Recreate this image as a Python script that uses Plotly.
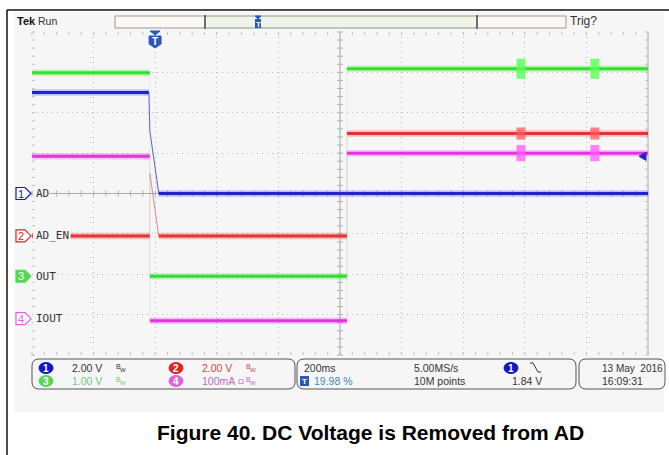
import plotly.graph_objects as go

# ---------------------------------------------------------------- data
# horizontal: 200 ms/div over 10 div, trigger placed at 19.98 % of record
time_per_div = 200.0
trig_pos_pct = 19.98
t_start = -trig_pos_pct / 100.0 * 10 * time_per_div
t_end = t_start + 10 * time_per_div

ch_names = ["AD", "AD_EN", "OUT", "IOUT"]
ch_scale = [2.0, 2.0, 1.0, 100.0]          # units per division
ch_units = ["V", "V", "V", "mA"]
ch_pos = [0.0, -1.05, -2.05, -3.1]          # ground level, divisions

# waveforms: time (ms) / value (channel units)
ad_t = [t_start, -20, -17, 12, t_end]
ad_v = [5.0, 5.0, 3.1, 0.0, 0.0]

en_t = [t_start, -17, -17, 12, 623, 623, t_end]
en_v = [0.0, 0.0, 3.1, 0.0, 0.0, 5.07, 5.07]

out_t = [t_start, -17, -17, 623, 623, t_end]
out_v = [5.04, 5.04, 0.0, 0.0, 5.14, 5.14]

iout_t = [t_start, -17, -17, 623, 623, t_end]
iout_v = [402, 402, -5, -5, 410, 410]

# short bursts seen on the restored rails
glitch_t = [1188, 1428]
glitch_amp = [0.0, 0.3, 0.25, 20.0]        # half-height per channel, units

trig_level = 1.84                           # V on channel 1
sample_rate = "5.00MS/s"
record_len = "10M points"
stamp_date = "13 May  2016"
stamp_time = "16:09:31"

# ---------------------------------------------------------------- style
W, H = 669, 455
GX0, GX1 = 32, 648
GY0, GY1 = 32, 355
NX, NY = 10, 8
DIVX = (GX1 - GX0) / NX
DIVY = (GY1 - GY0) / NY
CX = (GX0 + GX1) / 2
CY = (GY0 + GY1) / 2
PANEL = "#f6f6f6"
GRID = "#b9b9b9"
FONT = "Liberation Sans"
MONO = "DejaVu Sans Mono"
SZ = 10.5

core = ["#2323c8", "#e23434", "#33dd33", "#e035e0"]
halo = ["rgba(90,90,255,0.35)", "rgba(255,90,90,0.35)",
        "rgba(90,255,90,0.4)", "rgba(255,90,255,0.35)"]
burst = ["rgba(90,90,255,0.75)", "rgba(255,90,90,0.75)",
         "rgba(90,255,90,0.8)", "rgba(255,90,255,0.75)"]
slope = ["rgba(40,40,200,0.75)", "rgba(200,70,70,0.6)",
         "rgba(60,200,60,0.5)", "rgba(200,60,200,0.5)"]
jump = ["rgba(40,40,200,0.10)", "rgba(200,60,60,0.10)",
        "rgba(60,200,60,0.10)", "rgba(200,60,200,0.10)"]
badge_fill = ["#1414c8", "#e02424", "#55d855", "#e060e0"]


def px(x):
    return x / W


def py(y):
    return 1 - y / H


def to_div(ch, vals):
    return [None if v is None else ch_pos[ch] + v / ch_scale[ch] for v in vals]


def segments(ts, vs, kind):
    """Split a waveform into flat runs, sloped edges or vertical jumps."""
    xs, ys = [], []
    for i in range(len(ts) - 1):
        flat = vs[i] == vs[i + 1] and ts[i] != ts[i + 1]
        vert = ts[i] == ts[i + 1] and vs[i] != vs[i + 1]
        sl = not flat and not vert
        if (kind == "flat" and flat) or (kind == "vert" and vert) or (kind == "slope" and sl):
            xs += [ts[i], ts[i + 1], None]
            ys += [vs[i], vs[i + 1], None]
    return xs, ys


def value_at(ts, vs, t):
    v = vs[0]
    for ti, vi in zip(ts, vs):
        if ti <= t:
            v = vi
    return v


fig = go.Figure()
waves = [(ad_t, ad_v), (en_t, en_v), (out_t, out_v), (iout_t, iout_v)]


def add_line(xs, ys, color, width):
    if xs:
        fig.add_trace(go.Scatter(x=xs, y=ys, mode="lines",
                                 line=dict(color=color, width=width),
                                 hoverinfo="skip", showlegend=False))


for ch, (ts, vs) in enumerate(waves):
    vx, vy = segments(ts, vs, "vert")
    add_line(vx, to_div(ch, vy), jump[ch], 1)
    sx, sy = segments(ts, vs, "slope")
    add_line(sx, to_div(ch, sy), slope[ch], 1)
    fx, fy = segments(ts, vs, "flat")
    add_line(fx, to_div(ch, fy), halo[ch], 6.5)
    add_line(fx, to_div(ch, fy), core[ch], 3)
    if glitch_amp[ch] > 0:
        gx, gy = [], []
        for t in glitch_t:
            v = value_at(ts, vs, t)
            gx += [t, t, None]
            gy += [v - glitch_amp[ch], v + glitch_amp[ch], None]
        add_line(gx, to_div(ch, gy), burst[ch], 9)

shapes = []
ann = []


def line(x0, y0, x1, y1, color, width=1, layer="below"):
    shapes.append(dict(type="line", xref="paper", yref="paper",
                       x0=px(x0), y0=py(y0), x1=px(x1), y1=py(y1),
                       line=dict(color=color, width=width), layer=layer))


def rect(x0, y0, x1, y1, fill, color=None, width=1, layer="below"):
    shapes.append(dict(type="rect", xref="paper", yref="paper",
                       x0=px(x0), y0=py(y1), x1=px(x1), y1=py(y0),
                       fillcolor=fill, layer=layer,
                       line=dict(color=color or fill, width=width if color else 0)))


def path(pts, fill, color, width=1, layer="above", close=True):
    s = "M " + " L ".join(f"{px(x):.5f},{py(y):.5f}" for x, y in pts)
    if close:
        s += " Z"
    shapes.append(dict(type="path", xref="paper", yref="paper", path=s,
                       fillcolor=fill, line=dict(color=color, width=width), layer=layer))


def rrect(x0, y0, x1, y1, r, color="#555", fill="rgba(0,0,0,0)"):
    s = (f"M {px(x0 + r)},{py(y0)} L {px(x1 - r)},{py(y0)} "
         f"Q {px(x1)},{py(y0)} {px(x1)},{py(y0 + r)} L {px(x1)},{py(y1 - r)} "
         f"Q {px(x1)},{py(y1)} {px(x1 - r)},{py(y1)} L {px(x0 + r)},{py(y1)} "
         f"Q {px(x0)},{py(y1)} {px(x0)},{py(y1 - r)} L {px(x0)},{py(y0 + r)} "
         f"Q {px(x0)},{py(y0)} {px(x0 + r)},{py(y0)} Z")
    shapes.append(dict(type="path", xref="paper", yref="paper", path=s,
                       fillcolor=fill, line=dict(color=color, width=1), layer="above"))


def text(x, y, s, size=SZ, color="#333", anchor="left", family=FONT, bold=False):
    if bold:
        s = f"<b>{s}</b>"
    ann.append(dict(x=px(x), y=py(y), xref="paper", yref="paper", text=s, showarrow=False,
                    xanchor=anchor, yanchor="middle",
                    font=dict(size=size, color=color, family=family)))


def bw(x, y, color, prefix=""):
    # bandwidth-limit glyph: B with a small W below-right
    if prefix:
        text(x - 8, y, prefix, size=8, color=color)
    text(x, y - 2, "B", size=7, color=color)
    text(x + 4, y + 2, "W", size=6, color=color)


def badge(cx, cy, num, fill, w=14, h=11):
    shapes.append(dict(type="circle", xref="paper", yref="paper",
                       x0=px(cx - w / 2), x1=px(cx + w / 2), y0=py(cy + h / 2), y1=py(cy - h / 2),
                       fillcolor=fill, line=dict(color=fill, width=1), layer="above"))
    text(cx, cy, f"<b>{num}</b>", size=10, color="white", anchor="center")


# page frame and screenshot panel
rect(14, 12, 664, 412, PANEL)
line(7, 10, 669, 10, "#111", 1.5, layer="above")
line(7, 10, 7, 455, "#111", 1.5, layer="above")

# graticule centre cross with minor ticks, right edge, edge ticks
line(CX, GY0, CX, GY1, "#a8a8a8", 1)
line(GX0, CY, GX1, CY, "#a8a8a8", 1)
line(GX1, GY0, GX1, GY1, "#a8a8a8", 1)
for k in range(NX * 5 + 1):
    x = GX0 + k * DIVX / 5
    line(x, CY - 3, x, CY + 3, "#b0b0b0", 1)
    line(x, GY0, x, GY0 + 3, "#c0c0c0", 1)
    line(x, GY1 - 3, x, GY1, "#c0c0c0", 1)
for k in range(NY * 5 + 1):
    y = GY0 + k * DIVY / 5
    line(CX - 3, y, CX + 3, y, "#b0b0b0", 1)
    line(GX0, y, GX0 + 3, y, "#c0c0c0", 1)
    line(GX1 - 3, y, GX1, y, "#c0c0c0", 1)

# header
text(15, 21, "Tek", size=11, color="#111", bold=True)
text(36, 21, "Run", size=10.5, color="#333")
rect(115, 16, 205, 28, "#fbf8f4", "#9a9a9a")
rect(205, 16, 477, 28, "#eef5e8", "#8a9a8a")
rect(477, 16, 566, 28, "#fbf8f4", "#9a9a9a")
line(205, 15, 205, 29, "#555", 1.5, layer="above")
line(477, 15, 477, 29, "#555", 1.5, layer="above")
text(568, 21, "Trig?", size=12, color="#333")

# trigger position marker in the record bar
rec_x = 258
path([(rec_x - 3, 16), (rec_x + 3, 16), (rec_x, 19)], "#2a58b8", "#2a58b8")
rect(rec_x - 3, 19, rec_x + 3, 28, "#2a58b8")
text(rec_x, 24, "<b>T</b>", size=8, color="white", anchor="center")

# trigger marker above the graticule
tx = GX0 + (0 - t_start) / (t_end - t_start) * (GX1 - GX0)
path([(tx - 5, 31), (tx + 5, 31), (tx, 35)], "#2a58b8", "#2a58b8")
path([(tx - 6, 36), (tx + 6, 36), (tx + 6, 44), (tx, 48), (tx - 6, 44)], "#2a58b8", "#2a58b8")
text(tx, 41, "<b>T</b>", size=10, color="white", anchor="center")

# trigger level arrow on the right edge
ly = CY - (ch_pos[0] + trig_level / ch_scale[0]) * DIVY
path([(639, ly), (646, ly - 4), (646, ly + 4)], core[0], core[0])

# ground markers and channel labels (label sits on a panel-coloured patch)
for ch in range(4):
    gy = CY - ch_pos[ch] * DIVY
    filled = ch == 2
    pts = [(16, gy - 6), (25, gy - 6), (31, gy), (25, gy + 6), (16, gy + 6)]
    path(pts, badge_fill[ch] if filled else "white", badge_fill[ch], 1.2)
    text(21, gy, str(ch + 1), size=11, color="white" if filled else badge_fill[ch], anchor="center")
    rect(33, gy - 6, 36 + 6.9 * len(ch_names[ch]), gy + 6, PANEL, layer="above")
    text(34, gy, ch_names[ch], size=11, color="#333", family=MONO)

# info bar
R1, R2 = 368, 381
rrect(32, 359, 295, 389, 7)
rrect(297, 359, 576, 389, 7)
rrect(579, 359, 665, 389, 7)

info_color = ["#333", "#c84a4a", "#72c872", "#c06ac0"]
cols = [(46, R1), (176, R1), (46, R2), (176, R2)]
for ch in range(4):
    bx, by = cols[ch]
    badge(bx, by, ch + 1, badge_fill[ch])
    sc = ch_scale[ch]
    lab = f"{sc:.2f} {ch_units[ch]}" if ch_units[ch] == "V" else f"{sc:.0f}{ch_units[ch]}"
    text(bx + 24, by, lab, color=info_color[ch])
    bw(bx + 68, by, info_color[ch], prefix="Ω" if ch == 3 else "")

text(302, R1, f"{time_per_div:.0f}ms")
rect(300, R2 - 5, 309, R2 + 5, "#2a58b8")
text(304.5, R2, "<b>T</b>", size=8, color="white", anchor="center")
text(312, R2, f"{trig_pos_pct:.2f} %", color="#3a8cb4")
text(412, R1, sample_rate)
text(412, R2, record_len)
badge(511, R1, 1, badge_fill[0])
path([(530, 363), (533, 363), (538, 372), (541, 372)], "rgba(0,0,0,0)", "#333", 1, close=False)
text(510, R2, f"{trig_level:.2f} V")
text(600, R1, stamp_date, size=10)
text(600, R2, stamp_time)

# caption
text(370, 432, "Figure 40. DC Voltage is Removed from AD", size=21, color="#000",
     anchor="center", bold=True, family="Liberation Sans, Arial")

fig.update_layout(
    width=W, height=H, margin=dict(l=0, r=0, t=0, b=0),
    paper_bgcolor="white", plot_bgcolor="rgba(0,0,0,0)",
    showlegend=False, shapes=shapes, annotations=ann,
    xaxis=dict(domain=[px(GX0), px(GX1)], range=[t_start, t_end],
               tick0=t_start, dtick=time_per_div, showgrid=True,
               gridcolor=GRID, griddash="1px,4px", gridwidth=1,
               zeroline=False, showticklabels=False, ticks="", showline=False),
    yaxis=dict(domain=[py(GY1), py(GY0)], range=[-NY / 2, NY / 2],
               tick0=-NY / 2, dtick=1, showgrid=True,
               gridcolor=GRID, griddash="1px,4px", gridwidth=1,
               zeroline=False, showticklabels=False, ticks="", showline=False),
)

fig.write_html("out.html")
